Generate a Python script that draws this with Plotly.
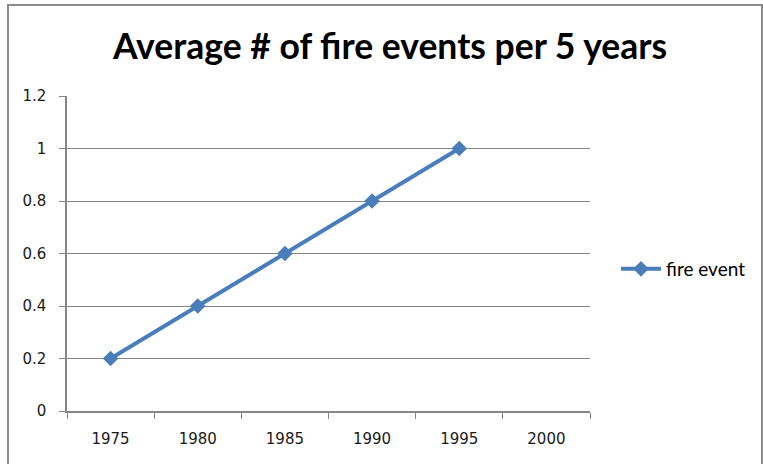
import plotly.graph_objects as go

years = ["1975", "1980", "1985", "1990", "1995", "2000"]
fire_event = [0.2, 0.4, 0.6, 0.8, 1.0, None]
y_ticks = [0, 0.2, 0.4, 0.6, 0.8, 1, 1.2]
y_ticktext = ["0", "0.2", "0.4", "0.6", "0.8", "1", "1.2"]

W, H = 763, 464
L, R, T, B = 67, 173, 96, 53
pw = W - L - R
ph = H - T - B

def px_x(x):
    return (x - L) / pw

def px_y(y):
    return (H - B - y) / ph

tick_font = dict(family="DejaVu Sans, Tahoma, sans-serif", size=15, color="#1a1a1a")

fig = go.Figure()
fig.add_trace(go.Scatter(
    x=years, y=fire_event, name="fire event", mode="lines+markers",
    line=dict(color="#4A7EBB", width=4),
    marker=dict(symbol="diamond", size=12, color="#4A7EBB"),
    connectgaps=False,
))

fig.update_layout(
    width=W, height=H,
    margin=dict(l=L, r=R, t=T, b=B),
    paper_bgcolor="white", plot_bgcolor="white",
    title=dict(text="<b>Average # of fire events per 5 years</b>",
               x=px_x(390), xref="paper", xanchor="center",
               y=1 - 47 / H, yanchor="middle",
               font=dict(family="Lato, Calibri, sans-serif", size=35.5, color="black")),
    xaxis=dict(type="category", categoryorder="array", categoryarray=years,
               tickson="boundaries", ticks="outside", ticklen=6, tickcolor="#868686",
               showline=True, linecolor="#868686", linewidth=1.5,
               showgrid=False, range=[-0.5, 5.5],
               tickfont=tick_font, ticklabelstandoff=13),
    yaxis=dict(range=[0, 1.2], tickvals=y_ticks, ticktext=y_ticktext,
               ticks="outside", ticklen=6, tickcolor="#868686",
               showline=True, linecolor="#868686", linewidth=1.5,
               showgrid=True, gridcolor="#868686", gridwidth=1.2, zeroline=False,
               tickfont=tick_font, ticklabelstandoff=10),
    legend=dict(x=px_x(616), y=px_y(269), xanchor="left", yanchor="middle",
                font=dict(family="Lato, Calibri, sans-serif", size=19, color="black"),
                bgcolor="rgba(0,0,0,0)", itemwidth=40, tracegroupgap=0),
    showlegend=True,
    shapes=[dict(type="rect", xref="paper", yref="paper",
                 x0=px_x(8), x1=px_x(762), y0=px_y(470), y1=px_y(5),
                 line=dict(color="#8c8c8c", width=2), layer="below")],
)

fig.write_html("out.html", config={"displayModeBar": False},
               post_script="document.body.style.margin='0';")
